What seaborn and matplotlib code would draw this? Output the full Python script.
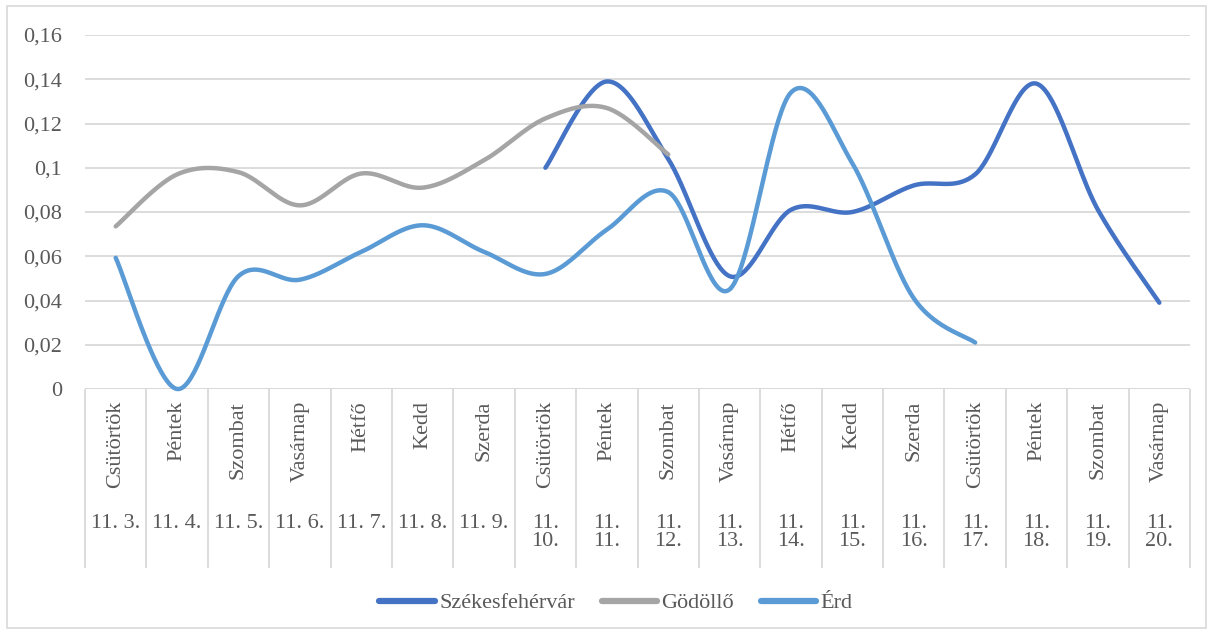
import numpy as np
import pandas as pd
import matplotlib
matplotlib.use("Agg")
import matplotlib.pyplot as plt
import seaborn as sns
from matplotlib.patches import Rectangle
from matplotlib.lines import Line2D

# ---- data ----
days = ["Csütörtök", "Péntek", "Szombat", "Vasárnap", "Hétfő", "Kedd", "Szerda",
        "Csütörtök", "Péntek", "Szombat", "Vasárnap", "Hétfő", "Kedd", "Szerda",
        "Csütörtök", "Péntek", "Szombat", "Vasárnap"]
dates = ["11. 3.", "11. 4.", "11. 5.", "11. 6.", "11. 7.", "11. 8.", "11. 9.",
         "11. 10.", "11. 11.", "11. 12.", "11. 13.", "11. 14.", "11. 15.",
         "11. 16.", "11. 17.", "11. 18.", "11. 19.", "11. 20."]
nan = np.nan
szekesfehervar = [nan, nan, nan, nan, nan, nan, nan,
                  0.100, 0.139, 0.104, 0.051, 0.081, 0.080, 0.092, 0.097, 0.138, 0.081, 0.039]
godollo = [0.0735, 0.097, 0.098, 0.083, 0.0974, 0.091, 0.1034, 0.1223, 0.127, 0.106,
           nan, nan, nan, nan, nan, nan, nan, nan]
erd = [0.0593, 0.0, 0.051, 0.0494, 0.062, 0.074, 0.062, 0.052, 0.072, 0.089,
       0.045, 0.134, 0.102, 0.041, 0.021, nan, nan, nan]
series_names = ["Székesfehérvár", "Gödöllő", "Érd"]
series_values = [szekesfehervar, godollo, erd]
colors = {"Székesfehérvár": "#4472C4", "Gödöllő": "#A5A5A5", "Érd": "#5B9BD5"}
yticks = [0, 0.02, 0.04, 0.06, 0.08, 0.10, 0.12, 0.14, 0.16]
ytick_labels = ["0", "0,02", "0,04", "0,06", "0,08", "0,1", "0,12", "0,14", "0,16"]


def smooth(xs, ys, n=40):
    """Excel-like smoothed line (Bezier with Catmull-Rom control points)."""
    pts = np.column_stack([xs, ys]).astype(float)
    out = []
    t = np.linspace(0, 1, n)[:, None]
    for i in range(len(pts) - 1):
        p0 = pts[i - 1] if i > 0 else pts[i]
        p1, p2 = pts[i], pts[i + 1]
        p3 = pts[i + 2] if i + 2 < len(pts) else pts[i + 1]
        c1 = p1 + (p2 - p0) / 6
        c2 = p2 - (p3 - p1) / 6
        seg = (1 - t) ** 3 * p1 + 3 * (1 - t) ** 2 * t * c1 + 3 * (1 - t) * t ** 2 * c2 + t ** 3 * p2
        out.append(seg if i == 0 else seg[1:])
    return np.vstack(out)


frames = []
for name, vals in zip(series_names, series_values):
    v = np.array(vals, dtype=float)
    idx = np.where(~np.isnan(v))[0]
    curve = smooth(idx, v[idx])
    frames.append(pd.DataFrame({"x": curve[:, 0], "y": curve[:, 1], "Város": name}))
df = pd.concat(frames, ignore_index=True)

# ---- figure ----
sns.set_style("white")
plt.rcParams["font.family"] = ["Liberation Serif", "DejaVu Serif"]
txt_color = "#595959"
grid_color = "#D9D9D9"
fs = 16

W, H = 1213, 635
fig = plt.figure(figsize=(W / 100, H / 100), dpi=100)
left, right, top, bottom = 85, 1190, 35, 389
ax = fig.add_axes([left / W, 1 - bottom / H, (right - left) / W, (bottom - top) / H])

sns.lineplot(data=df, x="x", y="y", hue="Város", palette=colors, sort=False,
             estimator=None, linewidth=3.2, ax=ax, legend=False)
for ln in ax.get_lines():
    ln.set_clip_on(False)
    ln.set_solid_capstyle("round")

ax.set_xlim(-0.5, len(days) - 0.5)
ax.set_ylim(0, 0.16)
ax.set_yticks(yticks)
ax.set_yticklabels(ytick_labels, fontsize=fs, color=txt_color)
ax.tick_params(axis="y", length=0, pad=16.5)
ax.set_xticks([])
ax.set_xlabel("")
ax.set_ylabel("")
for s in ax.spines.values():
    s.set_visible(False)
ax.grid(axis="y", color=grid_color, linewidth=1.3)
ax.set_axisbelow(True)

# category axis (two levels)
ax_h = bottom - top
sep_bottom = -(568 - bottom) / ax_h
xt = ax.get_xaxis_transform()
ax.axhline(0, color=grid_color, linewidth=1.3, zorder=0)
ax.vlines(np.arange(-0.5, len(days), 1.0), sep_bottom, 0, transform=xt,
          colors=grid_color, linewidth=1.3, clip_on=False)
day_top = -(401 - bottom) / ax_h
date_top = -(514 - bottom) / ax_h
for i, (d, dt) in enumerate(zip(days, dates)):
    ax.text(i, day_top, d, rotation=90, ha="center", va="top", fontsize=fs,
            color=txt_color, transform=xt)
    lab = dt if len(dt) <= 6 else dt.replace(" ", "\n", 1)
    ax.text(i, date_top, lab, ha="center", va="top", fontsize=fs, color=txt_color,
            transform=xt, linespacing=0.95, multialignment="center")

# legend
handles = [Line2D([], [], color=colors[n], linewidth=4.5, solid_capstyle="round")
           for n in series_names]
fig.legend(handles, series_names, loc="center", ncol=3,
           bbox_to_anchor=(616 / W, 1 - 603 / H), frameon=False, fontsize=fs,
           handlelength=2.5, handletextpad=0.2, columnspacing=1.2,
           labelcolor=txt_color)

# outer border
fig.patches.append(Rectangle((7 / W, 1 - 628 / H), (1206 - 7) / W, (628 - 6) / H,
                             transform=fig.transFigure, fill=False,
                             edgecolor=grid_color, linewidth=1.2))

fig.savefig("out.png", dpi=100)
